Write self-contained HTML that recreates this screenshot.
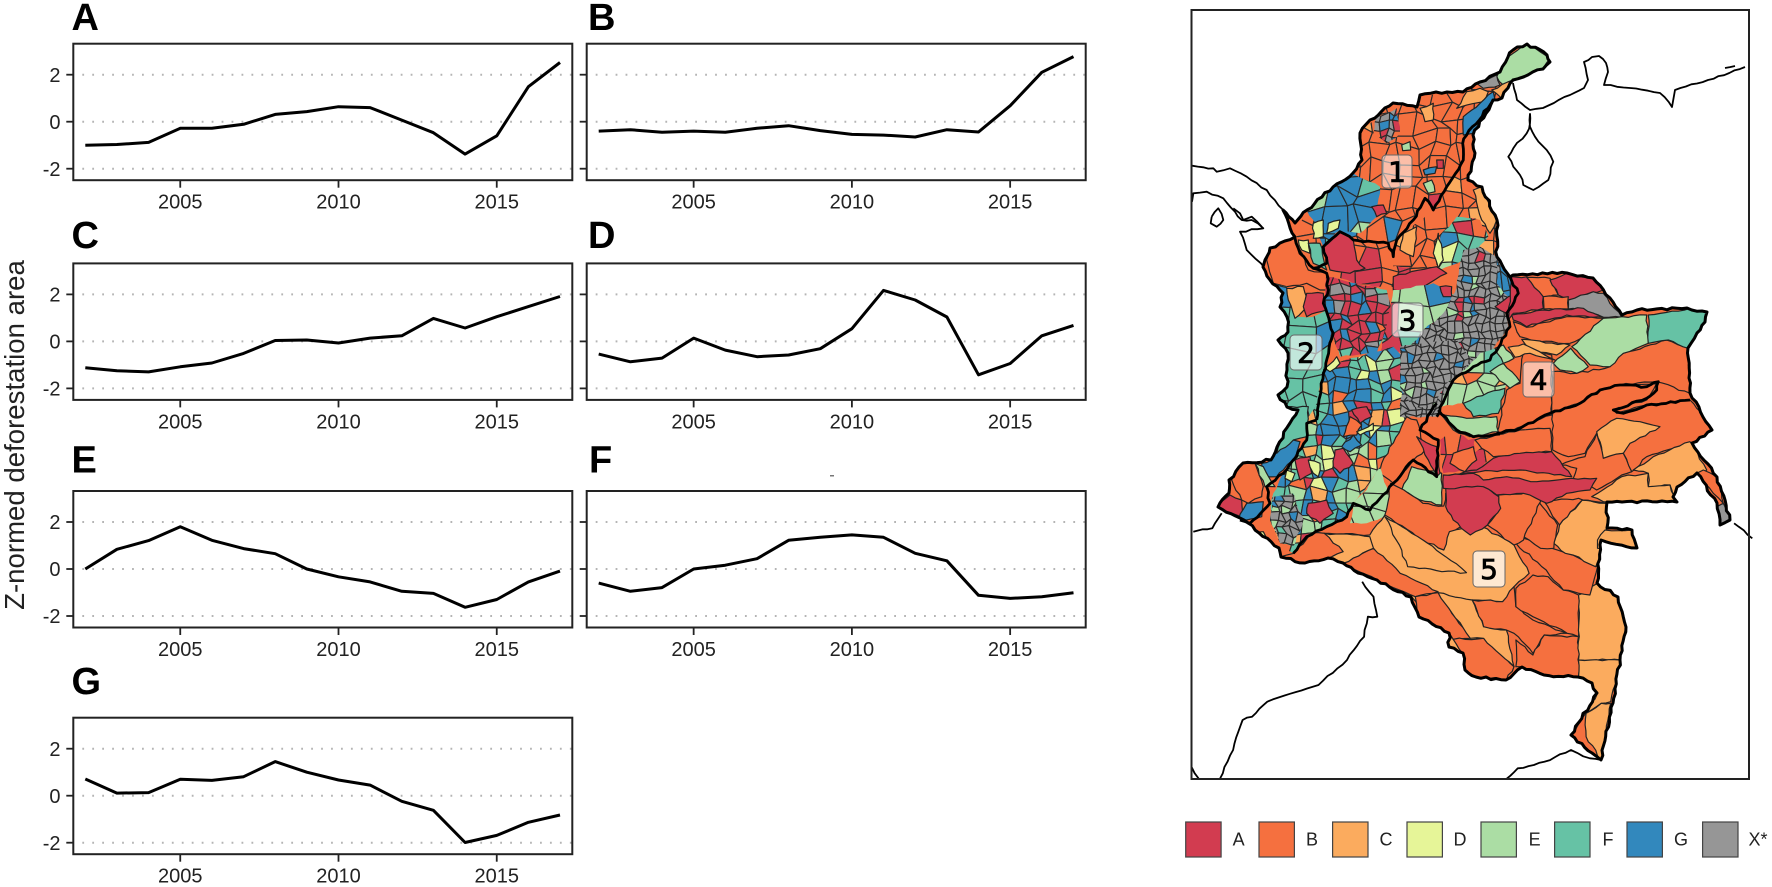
<!DOCTYPE html>
<html lang="en">
<head>
<meta charset="utf-8">
<title>Z-normed deforestation area by cluster and map of Colombia</title>
<style>
html,body{margin:0;padding:0;background:#fff;}
svg{display:block;}
text{font-family:"Liberation Sans",sans-serif;}
</style>
</head>
<body>
<svg id="figure" xmlns="http://www.w3.org/2000/svg" width="1772" height="887" viewBox="0 0 1772 887">
  <rect width="1772" height="887" fill="#fff"/>
  <text transform="translate(24,435) rotate(-90)" text-anchor="middle" font-size="27.6" fill="#222">Z-normed deforestation area</text>
  <rect x="830" y="475" width="4" height="1.5" fill="#777"/>
  <g id="panels"></g>
  <g id="neighbours"></g>
  <g id="map"></g>
  <rect x="1191.5" y="10" width="557.5" height="769" fill="none" stroke="#222" stroke-width="2"/>
  <g id="labels"></g>
  <g id="legend"></g>
</svg>
<script>
var years = [2002,2003,2004,2005,2006,2007,2008,2009,2010,2011,2012,2013,2014,2015,2016,2017];
var yearTicks = [2005,2010,2015];
var valueTicks = [-2,0,2];
var seriesA = [-1.0,-0.97,-0.88,-0.28,-0.28,-0.11,0.31,0.43,0.64,0.6,0.07,-0.47,-1.38,-0.6,1.49,2.52];
var seriesB = [-0.4,-0.34,-0.45,-0.4,-0.45,-0.28,-0.17,-0.38,-0.54,-0.57,-0.65,-0.34,-0.44,0.68,2.1,2.77];
var seriesC = [-1.12,-1.25,-1.3,-1.08,-0.92,-0.51,0.04,0.06,-0.07,0.14,0.24,0.98,0.57,1.05,1.48,1.91];
var seriesD = [-0.54,-0.87,-0.71,0.14,-0.37,-0.65,-0.58,-0.31,0.54,2.17,1.76,1.04,-1.42,-0.94,0.24,0.68];
var seriesE = [0,0.84,1.21,1.8,1.22,0.87,0.65,0,-0.33,-0.55,-0.95,-1.04,-1.63,-1.3,-0.55,-0.09];
var seriesF = [-0.6,-0.95,-0.79,0,0.16,0.44,1.22,1.35,1.45,1.35,0.67,0.35,-1.12,-1.25,-1.18,-1.01];
var seriesG = [0.71,0.11,0.13,0.7,0.65,0.81,1.45,1.0,0.67,0.45,-0.24,-0.62,-1.99,-1.69,-1.13,-0.82];
var panelNames = ['A','B','C','D','E','F','G'];
var panelValues = [seriesA,seriesB,seriesC,seriesD,seriesE,seriesF,seriesG];
var legendKeys = ['A','B','C','D','E','F','G','X*'];

var SVGNS = 'http://www.w3.org/2000/svg';
var PANEL_W = 499, PANEL_H = 136.5;
var layout = [
  {x:73.3, y:43.7, tx:71.5, ty:30},
  {x:586.7, y:43.7, tx:588, ty:30},
  {x:73.3, y:263.4, tx:71.5, ty:248},
  {x:586.7, y:263.4, tx:588, ty:248},
  {x:73.3, y:491, tx:71.5, ty:472.7},
  {x:586.7, y:491, tx:589, ty:472.7},
  {x:73.3, y:717.7, tx:71.5, ty:694}
];
function make(tag, attrs, parent) {
  var node = document.createElementNS(SVGNS, tag);
  for (var k in attrs) { node.setAttribute(k, attrs[k]); }
  parent.appendChild(node);
  return node;
}
function xScale(box, year) { return box.x + 12 + (year - 2002) * 31.65; }
function yScale(box, value) { return box.y + 78 - value * 23.5; }

var panelsRoot = document.getElementById('panels');
panelValues.forEach(function (values, i) {
  var box = layout[i];
  var name = panelNames[i].toLowerCase();
  var g = make('g', {}, panelsRoot);
  
  
  var title = make('text', {x: box.tx, y: box.ty, 'font-size': 38, 'font-weight': 'bold', fill: '#000'}, g);
  
  
  title.textContent = panelNames[i];
  valueTicks.forEach(function (v) {
    var grid = make('line', {x1: box.x + 9, x2: box.x + PANEL_W, y1: yScale(box, v), y2: yScale(box, v), stroke: '#b4b4b4', 'stroke-width': 2, 'stroke-dasharray': '1.8 8.15'}, g);
    
    
    var tick = make('line', {x1: box.x - 7, x2: box.x, y1: yScale(box, v), y2: yScale(box, v), stroke: '#222', 'stroke-width': 1.8}, g);
    
    
    if (box.x < 100) {
      var label = make('text', {x: 60.5, y: yScale(box, v) + 7.2, 'text-anchor': 'end', 'font-size': 20, fill: '#222'}, g);
      
      
      label.textContent = String(v);
    }
  });
  yearTicks.forEach(function (yr) {
    var tick = make('line', {x1: xScale(box, yr), x2: xScale(box, yr), y1: box.y + PANEL_H, y2: box.y + PANEL_H + 7.5, stroke: '#222', 'stroke-width': 1.8}, g);
    
    
    var label = make('text', {x: xScale(box, yr), y: box.y + PANEL_H + 28.5, 'text-anchor': 'middle', 'font-size': 20, fill: '#222'}, g);
    
    
    label.textContent = String(yr);
  });
  var pts = values.map(function (v, j) { return xScale(box, years[j]).toFixed(1) + ',' + yScale(box, v).toFixed(1); }).join(' ');
  var line = make('polyline', {points: pts, fill: 'none', stroke: '#000', 'stroke-width': 3, 'stroke-linejoin': 'round'}, g);
  
  
  var frame = make('rect', {x: box.x, y: box.y, width: PANEL_W, height: PANEL_H, fill: 'none', stroke: '#222', 'stroke-width': 2}, g);
  
  
});

/* ---------- map ---------- */
var colours = {A:'#D23C50',B:'#F5703F',C:'#FBAB5E',D:'#E6F598',E:'#ABDDA4',F:'#66C2A5',G:'#3288BD',X:'#969696'};
var frames = {a:[1180,20,1/3,1/3], b:[1180,260,1/3,1/3], c:[1440,240,1/3,1/3], d:[1180,400,1/2.635,1/3], t:[0,0,1,1]};
function conv(frame, str) {
  var f = frames[frame];
  return str.trim().split(/\s+/).map(function (p) {
    var q = p.split(',');
    return [f[0] + q[0] * f[2], f[1] + q[1] * f[3]];
  });
}
function ptsStr(list) { return list.map(function (p) { return p[0].toFixed(1) + ',' + p[1].toFixed(1); }).join(' '); }

var seed = 12345;
function nextRand() { seed = (seed * 16807) % 2147483647; return seed / 2147483647; }
function rough(list, amp, step, closed) {
  var out = [];
  var n = closed ? list.length : list.length - 1;
  for (var i = 0; i < n; i++) {
    var a = list[i], b = list[(i + 1) % list.length];
    var dx = b[0] - a[0], dy = b[1] - a[1], len = Math.sqrt(dx * dx + dy * dy) || 1;
    var parts = Math.max(1, Math.round(len / step));
    for (var j = 0; j < parts; j++) {
      var t = j / parts, off = j === 0 ? 0 : (nextRand() - 0.5) * 2 * amp;
      out.push([a[0] + dx * t - dy / len * off, a[1] + dy * t + dx / len * off]);
    }
  }
  if (!closed) { out.push(list[list.length - 1]); }
  return out;
}

var outline = '1513,50 1527,44 1547,55 1550,62 1543,69 1513,80 1508,88 1502,98 1493,100 1473,135 1475,153 1468,180 1482,187 1497,220 1497,257 1510,277 1513,275 1567,273 1593,278 1622,315 1637,310 1687,308 1707,312 1705,322 1697,333 1688,348 1690,393 1703,417 1712,430 1692,443 1717,477 1730,520 1720,525 1717,503 1697,473 1677,487 1673,497 1677,502 1607,502 1607,528 1632,530 1637,548 1601,540 1597,583 1618,597 1626,627 1620,660 1613,703 1601,760 1592,753 1571,735 1597,693 1592,683 1578,677 1544,675 1522,667 1506,680 1476,677 1465,670 1463,653 1449,647 1449,633 1419,617 1411,597 1377,580 1358,573 1343,563 1328,558 1305,563 1281,557 1279,548 1248,523 1218,507 1229,493 1229,480 1243,463 1271,460 1277,447 1290,423 1298,410 1287,407 1278,395 1287,387 1287,370 1288,353 1278,340 1288,332 1287,317 1280,307 1283,293 1270,280 1263,267 1265,260 1270,248 1295,237 1283,210 1295,223 1307,210 1333,187 1353,173 1362,160 1360,133 1370,120 1393,103 1417,107 1420,95 1447,92 1463,92 1480,82 1500,72 1508,57';

var mapZones = [
  ['a','BBBBBBBBBBBBBBCBBGBBBAB',15,'960,155 985,205 940,240 880,345 848,370 850,420 800,500 760,570 735,535 700,600 650,660 640,710 625,670 520,660 480,635 430,680 350,650 370,590 460,500 545,420 540,340 640,250 720,225 850,215'],
  ['a','GGGGGGGFGGBGGE',18,'380,570 460,500 520,460 600,500 590,590 540,640 480,630 430,680 400,600'],
  ['a','XAGXBXGAX',7,'590,290 650,265 660,340 620,370 580,340'],
  ['a','E',0,'950,170 985,110 1040,70 1110,115 1090,145 1000,180 970,195'],
  ['a','X',0,'890,190 950,165 960,195 910,205'],
  ['a','C',0,'830,265 860,215 900,205 925,215 910,245'],
  ['a','C',0,'935,210 1000,180 965,235'],
  ['a','G',0,'850,290 900,250 940,215 945,240 880,340 850,345'],
  ['a','C',0,'720,265 760,250 760,300 735,305'],
  ['a','E',0,'665,375 690,365 692,390 668,392'],
  ['a','A',0,'770,420 790,420 790,445 772,445'],
  ['a','G',0,'730,450 770,440 765,460 735,465'],
  ['a','E',0,'730,490 755,480 765,515 745,520'],
  ['a','A',0,'575,560 610,555 620,580 590,590'],
  ['a','BBBBBBCBBBCB',17,'660,650 760,570 800,500 850,420 875,480 905,500 950,600 950,710 870,690 760,740 700,770 640,740 630,710'],
  ['a','C',0,'880,510 905,500 950,600 930,640 905,600'],
  ['a','C',0,'670,640 710,620 700,710 660,690'],
  ['a','GFGEBAGFD',15,'780,650 830,590 900,600 925,650 890,690 850,720 780,750'],
  ['a','D',0,'760,700 775,640 790,720 775,745'],
  ['a','BBABBABB',18,'430,690 480,635 520,660 625,670 640,710 630,740 760,740 770,760 700,800 640,800 600,800 520,790 450,760'],
  ['a','A',0,'430,680 480,635 520,660 530,720 555,745 510,760 450,750'],
  ['a','D',0,'400,610 430,600 430,650 400,655'],
  ['a','D',0,'445,610 480,600 475,625 440,640'],
  ['a','D',0,'355,660 385,660 390,700 365,690'],
  ['a','F',0,'385,670 420,670 440,750 400,730'],
  ['a','AAA',0,'640,770 770,740 800,760 700,815 640,810'],
  ['a','B',0,'260,720 270,685 345,650 385,750 440,760 445,810 420,810 380,790 320,800 280,790'],
  ['a','FFFFFFFGFFFF',22,'280,790 320,800 345,890 400,890 440,870 460,940 430,1060 410,1200 260,1200 260,900'],
  ['a','C',0,'320,805 370,800 390,850 345,895 325,840'],
  ['a','A',0,'380,820 430,820 440,870 380,890 370,860'],
  ['a','AAXAGFAAXBAGAA',9,'440,770 620,810 640,880 590,1000 480,1010 455,930 430,850'],
  ['a','EEEFEBGEEAEF',24,'640,810 760,790 830,830 820,900 730,960 640,1000 600,1000'],
  ['a','A',0,'780,800 815,800 815,830 790,830'],
  ['b','GGFAGEDGFBAGFCEGFE',11,'430,320 640,260 680,300 720,440 700,480 630,580 560,680 520,730 500,770 440,800 380,830 340,880 300,850 270,780 280,700 310,640 380,540 380,480 410,430'],
  ['a','XXXXXXXGXXEXXXAXXXXX',7,'850,690 900,680 960,720 990,790 1005,830 975,880 985,920 930,1000 880,1040 820,1080 770,1190 660,1190 670,1010 730,930 790,880 830,800'],
  ['a','GGGGXG',15,'950,720 990,770 1015,820 985,830 950,790'],
  ['a','A',0,'1012,820 980,880 945,860 985,830'],
  ['b','XXXXGXXXEXXX',7,'660,260 830,240 880,300 800,370 760,440 700,440 660,380'],
  ['b','D',0,'435,325 470,290 480,310 450,335'],
  ['b','A',0,'515,450 560,440 575,470 540,490'],
  ['b','B',0,'490,530 510,470 545,495 530,525'],
  ['b','D',0,'530,515 580,490 580,510 540,525'],
  ['b','G',0,'485,560 520,525 545,555 510,575'],
  ['b','A',0,'465,570 490,565 520,610 480,640 460,620'],
  ['b','A',0,'345,600 390,590 395,640 360,660'],
  ['b','A',0,'385,730 440,720 460,760 420,790 380,760'],
  ['b','D',0,'320,630 345,640 335,665 315,655'],
  ['b','D',0,'385,600 420,610 415,650 400,640'],
  ['b','B',0,'605,610 680,470 710,480 735,570 700,600 640,670 600,640'],
  ['b','EEEEFE',22,'520,730 560,690 600,620 620,680 640,760 560,790 510,790'],
  ['b','G',0,'280,570 340,540 360,545 340,600 310,630 290,650 250,650 245,610 275,600'],
  ['b','F',0,'300,440 385,440 380,530 340,540 290,580 320,490'],
  ['b','B',0,'155,660 180,610 225,610 250,680 245,710 205,730 185,720'],
  ['b','A',0,'105,735 150,705 185,720 190,775'],
  ['b','G',0,'200,730 250,725 245,770 200,780 175,780'],
  ['b','E',0,'225,610 250,620 285,680 255,680'],
  ['b','XXGXFXEXX',7,'280,710 340,700 370,780 340,860 300,850 270,780'],
  ['b','D',0,'215,815 250,815 260,835 225,835'],
  ['c','EFCEEBFE',20,'10,470 45,420 120,340 165,325 205,400 195,445 110,470 70,490 5,500'],
  ['c','ABAEBAA',22,'0,600 40,570 85,600 105,595 100,640 130,620 150,660 110,690 10,700'],
  ['c','B',0,'335,395 410,400 510,380 550,340 680,300 745,325 750,460 650,425 540,435 480,450 420,490 335,520'],
  ['c','B',0,'200,450 240,430 250,340 335,345 335,525 200,578 170,580'],
  ['c','A',0,'215,110 260,110 310,170 310,205 220,220 205,240'],
  ['c','B',0,'260,112 330,115 355,165 310,170'],
  ['c','A',0,'330,120 380,100 460,115 490,150 385,180 355,165'],
  ['c','B',0,'310,170 385,170 385,207 312,207'],
  ['c','X',0,'385,180 460,155 490,160 545,232 490,232 430,210 385,207'],
  ['c','A',0,'215,225 310,210 430,205 490,232 380,225 260,260 220,240'],
  ['c','B',0,'220,245 260,262 380,230 490,235 450,280 390,310 300,305 240,290'],
  ['c','C',0,'245,298 390,315 350,345 270,330'],
  ['c','C',0,'205,322 250,312 345,360 270,340 225,352'],
  ['c','E',0,'395,320 490,235 620,225 625,310 550,340 510,380 450,375'],
  ['c','F',0,'625,225 750,205 810,215 795,245 745,325 685,300 625,310'],
  ['c','E',0,'340,370 392,325 445,380 410,400 360,390'],
  ['c','F',0,'70,490 110,470 195,445 175,520 100,530'],
  ['c','E',0,'0,520 80,535 170,530 175,575 90,590 40,570'],
  ['c','E',0,'150,395 190,370 240,425 210,445'],
  ['c','E',0,'165,325 190,315 222,355 190,370'],
  ['c','B',0,'105,600 240,570 330,565 335,635 160,650 125,625'],
  ['c','B',0,'338,520 420,490 480,450 540,435 650,430 620,480 520,510 530,520 620,495 750,480 790,530 815,570 755,610 620,650 575,695 550,640 490,655 470,580 435,640 385,650 338,630'],
  ['c','C',0,'470,575 530,535 600,545 660,560 570,610 550,640 490,655'],
  ['c','C',0,'580,690 640,650 750,605 800,690 770,715 775,745 700,770 690,735 625,740 625,700'],
  ['c','C',0,'455,770 545,710 625,700 625,740 690,735 710,785 490,785'],
  ['c','B',0,'360,675 435,650 470,580 490,655 550,640 575,695 545,705 470,750 400,715 410,685'],
  ['c','B',0,'770,700 790,690 830,710 850,790 820,760'],
  ['c','X',0,'850,790 875,840 840,860 830,800'],
  ['b','E',0,'665,690 695,620 785,640 785,735 720,720'],
  ['c','B',0,'40,640 100,620 110,660 75,695 30,670'],
  ['b','A',0,'710,530 770,560 780,640 770,650 745,600'],
  ['d','C',0,'310,480 345,400 500,405 540,345 705,395 795,380 880,435 920,520 880,560 850,605 770,600 770,700 880,800 780,830 710,740 610,590 430,490'],
  ['d','B',0,'540,345 555,250 590,270 640,310 695,318 700,280 740,380 710,395 695,450 640,420 570,370'],
  ['d','C',0,'540,350 570,420 600,500 690,515 755,518 700,470 640,420'],
  ['d','B',0,'430,490 510,445 580,520 680,575 620,590 520,540'],
  ['d','B',0,'620,590 680,578 765,715 720,718 710,700 630,650'],
  ['d','B',0,'720,718 800,715 880,800 860,840 780,830 750,810 745,760'],
  ['d','C',0,'680,578 770,600 800,680 860,690 880,800 800,715 765,715'],
  ['d','B',0,'770,600 850,605 880,560 885,620 930,660 1020,700 960,705 930,760 880,700 860,690 800,680'],
  ['d','B',0,'885,565 930,525 970,530 1010,570 1050,585 1050,710 1020,700 930,650 885,620'],
  ['d','B',0,'885,720 930,765 960,705 1050,710 1050,830 960,825 900,800 885,800'],
  ['d','C',0,'1050,585 1100,550 1155,590 1175,680 1160,780 1050,780'],
  ['d','C',0,'1050,780 1160,780 1135,905 1110,910 1070,940 1030,1005 1100,880 1050,830'],
  ['d','C',0,'1070,940 1110,910 1135,910 1110,1080 1070,1010'],
  ['d','B',0,'885,430 965,510 1010,570 1080,585 1100,500 1035,465 980,445 905,415'],
  ['d','C',0,'985,430 1000,375 1060,300 1125,310 1125,385 1095,500 1035,465 1015,460'],
  ['d','C',0,'1100,420 1120,390 1190,390 1205,445 1100,445'],
  ['d','B',0,'905,410 945,305 995,375 985,445 950,445'],
  ['d','B',0,'810,375 840,330 840,285 945,275 950,305 905,420 880,435'],
  ['d','B',0,'960,305 1050,295 1120,310 1060,300 1000,375'],
  ['d','A',0,'700,265 785,250 840,290 845,325 810,375 765,405 720,360 700,320'],
  ['c','A',0,'110,690 160,655 240,640 335,635 395,710 240,690 120,695 10,710'],
  ['c','A',0,'10,705 100,700 130,720 200,710 290,725 395,715 470,715 450,750 380,760 320,790 250,760 170,765 130,740 10,745'],
  ['d','C',0,'380,400 500,410 510,445 430,490 390,475 345,430'],
  ['d','B',0,'300,460 345,400 380,400 430,455 400,470 330,490 265,470']
];
var neighbourLines = [
  ['a','36,437 70,442 100,445 110,455 150,445 200,470 260,510 310,570 345,610 380,640'],
  ['a','36,545 40,520 80,515 130,535 165,575 185,600 215,600 250,625 180,635 200,690 255,745 265,770'],
  ['a','95,590 115,565 130,600 110,620 92,610 95,590'],
  ['a','160,565 180,580 190,600 215,590 245,620'],
  ['t','1513,83 1517,100 1530,110 1543,108 1570,95 1584,88 1588,80 1584,62 1592,57 1599,56 1606,63 1608,72 1604,85 1630,88 1660,93 1672,107 1675,90 1708,80 1745,67'],
  ['a','1050,280 1050,320 1065,350 1100,390 1120,425 1105,480 1060,510 1030,495 1020,465 1000,440 985,410 1000,385 1040,340 1050,310 1050,280'],
  ['t','1725,68 1735,66'],
  ['d','35,395 60,388 85,385 110,340'],
  ['d','480,545 510,590 520,650 495,650 485,710 440,780 365,855 230,905 190,950 165,960 140,1050 105,1137'],
  ['d','30,1100 50,1137'],
  ['d','1110,1080 1080,1075 1030,1050 960,1085 890,1105 860,1137'],
  ['d','1460,370 1508,415']
];
var boundaryLines = [
  ['a','940,240 860,345 848,370 850,420 800,500 760,570 735,535 700,600 650,660 640,710 625,670 520,660 480,635 430,680 440,730 400,745 360,700 345,655'],
  ['a','400,745 440,760 445,810 430,850 460,940 430,1060 410,1200'],
  ['b','410,480 380,490 380,540 340,600 310,640 260,680 270,730 210,790 180,780'],
  ['a','990,770 1015,820 980,880 990,920 930,1020 880,1040 820,1080 770,1190'],
  ['b','770,430 720,510 775,540 770,650 700,600 640,670 570,750 520,730 500,770 440,800 380,830 340,880'],
  ['b','775,450 830,510 880,530 960,522'],
  ['c','170,580 240,565 330,520 420,490 480,450 540,435 620,440 655,425 650,450 620,475 520,510 550,520 620,495 750,480']
];

var outlineRough = ptsStr(rough(conv('t', outline), 1.3, 5, true));
var mapRoot = document.getElementById('map');
var defs = make('defs', {}, mapRoot);
var cp = make('clipPath', {id: 'colombia-clip'}, defs);
make('polygon', {points: outlineRough}, cp);
var land = make('g', {'clip-path': 'url(#colombia-clip)'}, mapRoot);


var baseLand = make('polygon', {points: outlineRough, fill: colours.B}, land);



mapZones.forEach(function (zone, idx) {
  var pts = rough(conv(zone[0], zone[3]), 1, 6, true);
  if (!zone[2]) {
    var poly = make('polygon', {points: ptsStr(pts), fill: colours[zone[1].charAt(0)], stroke: '#222', 'stroke-width': 1.2, 'stroke-linejoin': 'round'}, land);
    
    
    return;
  }
  var clip = make('clipPath', {id: 'zone-clip-' + idx}, defs);
  make('polygon', {points: ptsStr(pts)}, clip);
  var g = make('g', {'clip-path': 'url(#zone-clip-' + idx + ')'}, land);
  
  
  var xs = pts.map(function (p) { return p[0]; }), ys = pts.map(function (p) { return p[1]; });
  var x0 = Math.min.apply(null, xs) - zone[2], x1 = Math.max.apply(null, xs) + zone[2];
  var y0 = Math.min.apply(null, ys) - zone[2], y1 = Math.max.apply(null, ys) + zone[2];
  var cols = Math.ceil((x1 - x0) / zone[2]), rows = Math.ceil((y1 - y0) / zone[2]);
  var grid = [];
  for (var r = 0; r <= rows; r++) {
    grid.push([]);
    for (var c = 0; c <= cols; c++) {
      grid[r].push([x0 + c * zone[2] + (nextRand() - 0.5) * zone[2] * 0.85, y0 + r * zone[2] + (nextRand() - 0.5) * zone[2] * 0.85]);
    }
  }
  for (r = 0; r < rows; r++) {
    for (c = 0; c < cols; c++) {
      var key = zone[1].charAt(Math.floor(nextRand() * zone[1].length));
      var cell = make('polygon', {points: ptsStr([grid[r][c], grid[r][c + 1], grid[r + 1][c + 1], grid[r + 1][c]]), fill: colours[key], stroke: '#2a2a2a', 'stroke-width': 1.15, 'stroke-linejoin': 'round'}, g);
      
      
    }
  }
});

boundaryLines.forEach(function (b, i) {
  var line = make('polyline', {points: ptsStr(rough(conv(b[0], b[1]), 1.1, 5, false)), fill: 'none', stroke: '#000', 'stroke-width': 2.8, 'stroke-linejoin': 'round'}, mapRoot);
  
  
});
var countryLine = make('polygon', {points: outlineRough, fill: 'none', stroke: '#000', 'stroke-width': 3, 'stroke-linejoin': 'round'}, mapRoot);



var neighbourRoot = document.getElementById('neighbours');
neighbourLines.forEach(function (n, i) {
  var line = make('polyline', {points: ptsStr(rough(conv(n[0], n[1]), 0.9, 6, false)), fill: 'none', stroke: '#000', 'stroke-width': 1.8, 'stroke-linejoin': 'round'}, neighbourRoot);
  
  
});

/* ---------- numbered labels ---------- */
var regionLabels = ['1','2','3','4','5'];
var regionBoxes = [[1382,155,30,33,0.55],[1290,335,32,35,0.6],[1392,303,31,34,0.62],[1523,362,31,35,0.55],[1473,551,32,36,0.72]];
var labelsRoot = document.getElementById('labels');
regionLabels.forEach(function (txt, i) {
  var b = regionBoxes[i];
  var g = make('g', {}, labelsRoot);
  
  
  var r = make('rect', {x: b[0], y: b[1], width: b[2], height: b[3], rx: 4, fill: 'rgba(255,255,255,' + b[4] + ')', stroke: '#666', 'stroke-width': 1}, g);
  
  
  var t = make('text', {x: b[0] + b[2] / 2, y: b[1] + b[3] / 2 + 10, 'text-anchor': 'middle', 'font-size': 28, fill: '#000', stroke: '#000', 'stroke-width': 0.8}, g);
  t.style.fontFamily = '"DejaVu Sans", sans-serif';
  
  
  t.textContent = txt;
});

/* ---------- legend ---------- */
var legendSwatchX = [1185.7,1259,1332.6,1407,1481,1554.6,1627,1702.6];
var legendTextX = [1238.6,1312,1386,1460,1534.6,1608,1681,1758];
var legendRoot = document.getElementById('legend');
legendKeys.forEach(function (key, i) {
  var g = make('g', {}, legendRoot);
  
  
  var s = make('rect', {x: legendSwatchX[i], y: 822, width: 35.4, height: 35, fill: colours[key.charAt(0)], stroke: '#444', 'stroke-width': 1.2}, g);
  
  
  var t = make('text', {x: legendTextX[i], y: 845.5, 'text-anchor': 'middle', 'font-size': 18, fill: '#222'}, g);
  
  
  t.textContent = key;
});
</script>
</body>
</html>
